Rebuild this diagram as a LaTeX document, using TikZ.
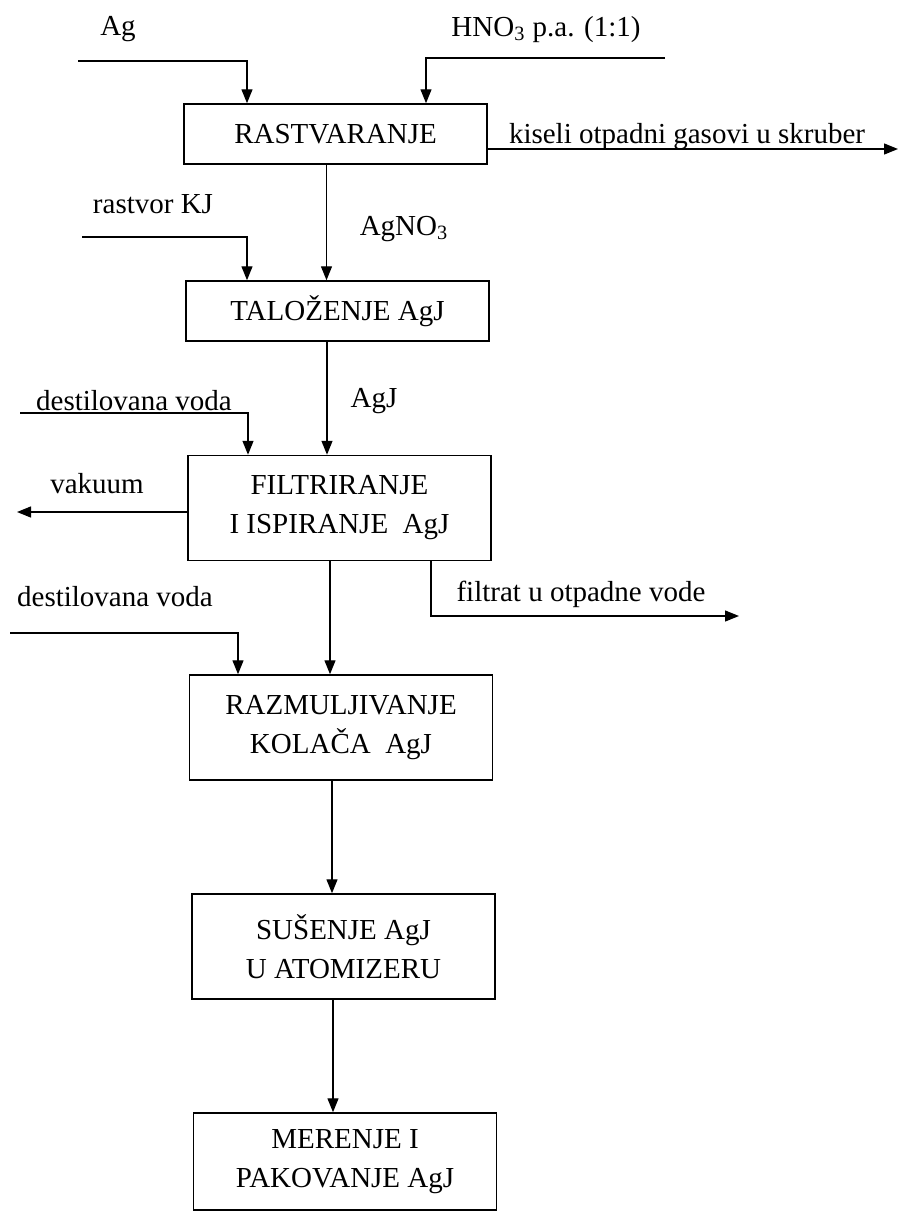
\documentclass[tikz,border=0pt]{standalone}
\usepackage{fontspec}
\setmainfont{Liberation Serif}
\usetikzlibrary{arrows.meta,positioning}

\tikzset{
  proc/.style={draw, line width=0.75pt, minimum width=151.5pt, minimum height=30pt,
    inner sep=2pt, align=center, font=\fontsize{14.5pt}{19.5pt}\selectfont},
  tallproc/.style={proc, minimum height=52.5pt},
  flow/.style={line width=0.65pt, -{Triangle[length=7pt,width=5.5pt]}},
  lbl/.style={anchor=base, inner sep=0pt, font=\fontsize{14.5pt}{17pt}\selectfont},
}

\begin{document}
\begin{tikzpicture}[x=0.5pt, y=-0.5pt]
  \useasboundingbox (0,0) rectangle (899,1215);

  % process boxes
  \node[proc] (rast) at (335.5,134) {RASTVARANJE};
  \node[proc] (talo) at (337.5,311) {TALOŽENJE AgJ};
  \node[tallproc] (filt) at (339.5,508) {FILTRIRANJE\\I ISPIRANJE\ \ AgJ};
  \node[tallproc] (razm) at (341,727.5) {RAZMULJIVANJE\\KOLAČA\ \ AgJ};
  \node[tallproc] (suse) at (343.5,946.5) {SUŠENJE AgJ\\U ATOMIZERU};
  \node[tallproc, minimum height=48.5pt] (mere) at (345,1161.5) {MERENJE I\\PAKOVANJE AgJ};

  % labels
  \node[lbl] (lag) at (118,35) {Ag};
  \node[lbl] (lhno) at (546,36) {HNO\textsubscript{3} p.a. (1:1)};
  \node[lbl] (lgas) at (687,143) {kiseli otpadni gasovi u skruber};
  \node[lbl] (lkj) at (153,213) {rastvor KJ};
  \node[lbl] (lagno) at (404,235) {AgNO\textsubscript{3}};
  \node[lbl] (ldv1) at (134,410) {destilovana voda};
  \node[lbl] (lagj) at (374,407) {AgJ};
  \node[lbl] (lvak) at (97,493) {vakuum};
  \node[lbl] (lfil) at (581,601) {filtrat u otpadne vode};
  \node[lbl] (ldv2) at (115,606) {destilovana voda};

  % free ends and bends
  \coordinate (agin) at (78,61);
  \coordinate (agx) at (247,0);
  \coordinate (hnoin) at (665,58);
  \coordinate (hnox) at (426,0);
  \coordinate (gasout) at (898,149);
  \coordinate (kjin) at (82,237);
  \coordinate (kjx) at (247,0);
  \coordinate (dv1in) at (20,413);
  \coordinate (dv1x) at (248,0);
  \coordinate (vakout) at (17,512);
  \coordinate (filx) at (431,0);
  \coordinate (filout) at (739,616);
  \coordinate (dv2in) at (10,633);
  \coordinate (dv2x) at (238,0);
  \coordinate (m1) at (326.5,0);
  \coordinate (m2) at (327,0);
  \coordinate (m3) at (330,0);
  \coordinate (m4) at (332,0);
  \coordinate (m5) at (333,0);

  % inputs and outputs
  \draw[flow] (agin) -| (agx |- rast.north);
  \draw[flow] (hnoin) -| (hnox |- rast.north);
  \draw[flow] (rast.east |- gasout) -- (gasout);
  \draw[flow] (kjin) -| (kjx |- talo.north);
  \draw[flow] (dv1in) -| (dv1x |- filt.north);
  \draw[flow] (filt.west |- vakout) -- (vakout);
  \draw[flow] (filx |- filt.south) |- (filout);
  \draw[flow] (dv2in) -| (dv2x |- razm.north);

  % main line
  \draw[flow] (m1 |- rast.south) -- (m1 |- talo.north);
  \draw[flow] (m2 |- talo.south) -- (m2 |- filt.north);
  \draw[flow] (m3 |- filt.south) -- (m3 |- razm.north);
  \draw[flow] (m4 |- razm.south) -- (m4 |- suse.north);
  \draw[flow] (m5 |- suse.south) -- (m5 |- mere.north);
\end{tikzpicture}
\end{document}
